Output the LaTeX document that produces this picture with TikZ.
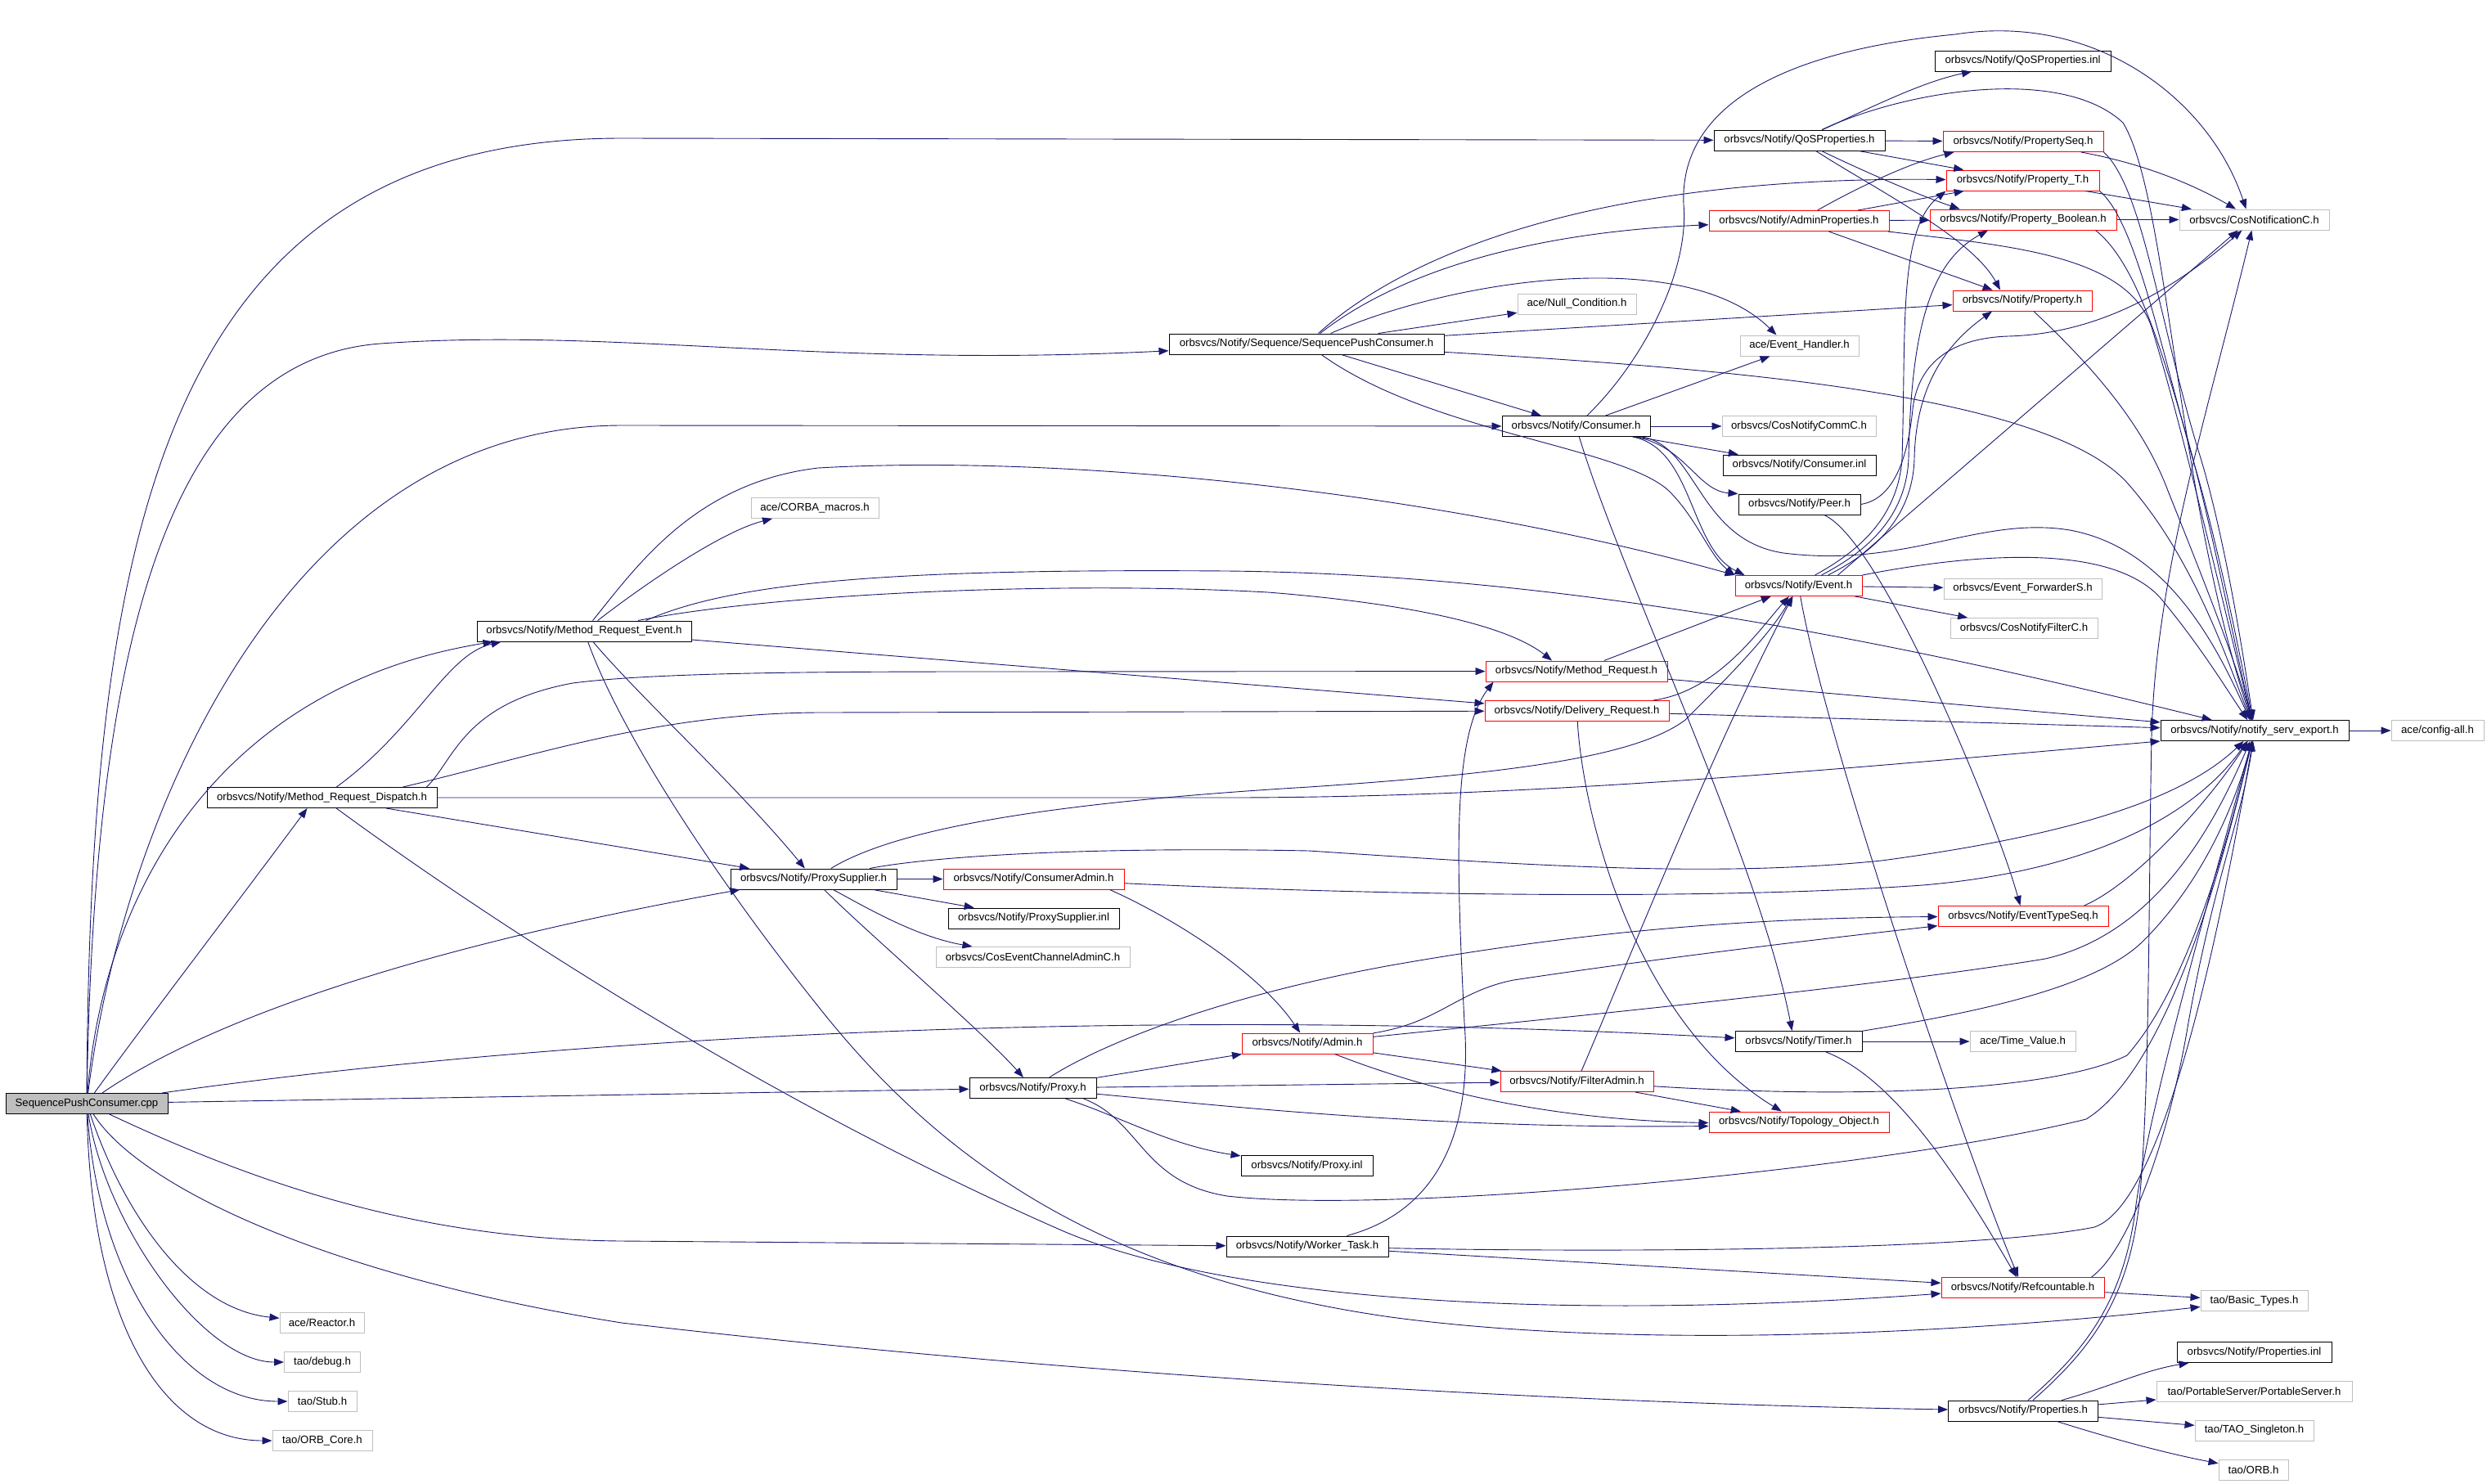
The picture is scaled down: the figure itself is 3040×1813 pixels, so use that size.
\documentclass[tikz,border=0pt]{standalone}
\usepackage{fontspec}
\setmainfont{Liberation Sans}
\usetikzlibrary{arrows.meta,calc}
\definecolor{edgeblue}{RGB}{25,25,112}
\definecolor{boxgray}{RGB}{191,191,191}
\newcommand{\nfont}{\fontsize{13.2}{15}\selectfont}
\begin{document}
\begin{tikzpicture}[x=1pt,y=-1pt,
  box/.style={draw=black,line width=1pt,minimum height=25pt,inner sep=0pt,font=\nfont},
  rbox/.style={box,draw=red},
  gbox/.style={box,draw=boxgray},
  e/.style={draw=edgeblue,line width=0.9pt,-{Triangle[length=12pt,width=9pt]}}]
\useasboundingbox (0,0) rectangle (3040,1813);
% nodes
\node[box,fill=boxgray,minimum width=198pt] (cpp) at (106,1349) {SequencePushConsumer.cpp};
\node[box,minimum width=209pt] (qos) at (2199.5,171.5) {orbsvcs/Notify/QoSProperties.h};
\node[box,minimum width=215pt] (qosinl) at (2472.5,74.5) {orbsvcs/Notify/QoSProperties.inl};
\node[rbox,minimum width=196pt] (pseq) at (2473,173) {orbsvcs/Notify/PropertySeq.h};
\node[rbox,minimum width=187pt] (propT) at (2472.5,220.5) {orbsvcs/Notify/Property\_T.h};
\node[rbox,minimum width=228pt] (pbool) at (2473,268.5) {orbsvcs/Notify/Property\_Boolean.h};
\node[gbox,minimum width=183pt] (cosnotif) at (2755.5,268.5) {orbsvcs/CosNotificationC.h};
\node[rbox,minimum width=170pt] (prop) at (2472,367.5) {orbsvcs/Notify/Property.h};
\node[rbox,minimum width=220pt] (adminprop) at (2199,270) {orbsvcs/Notify/AdminProperties.h};
\node[gbox,minimum width=145pt] (nullcond) at (1927.5,371.5) {ace/Null\_Condition.h};
\node[box,minimum width=336pt] (seqpc) at (1597,420.5) {orbsvcs/Notify/Sequence/SequencePushConsumer.h};
\node[gbox,minimum width=145pt] (evhandler) at (2199.5,422.5) {ace/Event\_Handler.h};
\node[box,minimum width=181pt] (consumer) at (1926.5,521) {orbsvcs/Notify/Consumer.h};
\node[gbox,minimum width=188pt] (commc) at (2199,521) {orbsvcs/CosNotifyCommC.h};
\node[box,minimum width=187pt] (consinl) at (2199.5,568.5) {orbsvcs/Notify/Consumer.inl};
\node[box,minimum width=149pt] (peer) at (2199.5,616.5) {orbsvcs/Notify/Peer.h};
\node[rbox,minimum width=155pt] (event) at (2198.5,716) {orbsvcs/Notify/Event.h};
\node[gbox,minimum width=193pt] (evfwd) at (2472.5,719.5) {orbsvcs/Event\_ForwarderS.h};
\node[gbox,minimum width=180pt] (filterc) at (2474,768) {orbsvcs/CosNotifyFilterC.h};
\node[gbox,minimum width=156pt] (corba) at (996,621) {ace/CORBA\_macros.h};
\node[box,minimum width=262pt] (mre) at (714,771.5) {orbsvcs/Notify/Method\_Request\_Event.h};
\node[rbox,minimum width=222pt] (mr) at (1927,820.5) {orbsvcs/Notify/Method\_Request.h};
\node[rbox,minimum width=225pt] (dr) at (1927.5,869) {orbsvcs/Notify/Delivery\_Request.h};
\node[box,minimum width=230pt] (nse) at (2756,893) {orbsvcs/Notify/notify\_serv\_export.h};
\node[gbox,minimum width=113pt] (config) at (2979.5,893) {ace/config-all.h};
\node[box,minimum width=281pt] (mrd) at (393.5,975) {orbsvcs/Notify/Method\_Request\_Dispatch.h};
\node[box,minimum width=203pt] (psup) at (994.5,1074.5) {orbsvcs/Notify/ProxySupplier.h};
\node[rbox,minimum width=221pt] (cadmin) at (1263.5,1074.5) {orbsvcs/Notify/ConsumerAdmin.h};
\node[box,minimum width=209pt] (psupinl) at (1263.5,1122.5) {orbsvcs/Notify/ProxySupplier.inl};
\node[gbox,minimum width=237pt] (cecac) at (1262.5,1170) {orbsvcs/CosEventChannelAdminC.h};
\node[rbox,minimum width=208pt] (etseq) at (2473,1120) {orbsvcs/Notify/EventTypeSeq.h};
\node[rbox,minimum width=160pt] (admin) at (1598,1275.5) {orbsvcs/Notify/Admin.h};
\node[box,minimum width=155pt] (timer) at (2198.5,1273) {orbsvcs/Notify/Timer.h};
\node[gbox,minimum width=129pt] (timeval) at (2472.5,1273) {ace/Time\_Value.h};
\node[box,minimum width=155pt] (proxy) at (1262.5,1330) {orbsvcs/Notify/Proxy.h};
\node[rbox,minimum width=187pt] (filteradmin) at (1927.5,1322) {orbsvcs/Notify/FilterAdmin.h};
\node[rbox,minimum width=220pt] (topo) at (2199,1371.5) {orbsvcs/Notify/Topology\_Object.h};
\node[box,minimum width=161pt] (proxyinl) at (1597.5,1425) {orbsvcs/Notify/Proxy.inl};
\node[box,minimum width=198pt] (worker) at (1598,1523.5) {orbsvcs/Notify/Worker\_Task.h};
\node[rbox,minimum width=199pt] (refc) at (2472.5,1574) {orbsvcs/Notify/Refcountable.h};
\node[gbox,minimum width=131pt] (basic) at (2755.5,1590) {tao/Basic\_Types.h};
\node[box,minimum width=189pt] (propsinl) at (2755.5,1653) {orbsvcs/Notify/Properties.inl};
\node[gbox,minimum width=239pt] (portable) at (2755.5,1701) {tao/PortableServer/PortableServer.h};
\node[box,minimum width=183pt] (props) at (2473,1724.5) {orbsvcs/Notify/Properties.h};
\node[gbox,minimum width=145pt] (singleton) at (2755.5,1748.5) {tao/TAO\_Singleton.h};
\node[gbox,minimum width=85pt] (orb) at (2754.5,1797) {tao/ORB.h};
\node[gbox,minimum width=103pt] (reactor) at (393.5,1616.5) {ace/Reactor.h};
\node[gbox,minimum width=93pt] (debug) at (394,1665) {tao/debug.h};
\node[gbox,minimum width=84pt] (stub) at (394,1713) {tao/Stub.h};
\node[gbox,minimum width=122pt] (orbcore) at (394,1761) {tao/ORB\_Core.h};
% edges from cpp
\draw[e] (cpp) .. controls (110,650) and (200,169) .. (760,169) -- (qos);
\draw[e] (cpp) .. controls (115,800) and (200,440) .. (465,420) .. controls (750,400) and (1000,450) .. (seqpc);
\draw[e] (cpp) .. controls (150,1000) and (350,520) .. (760,520) -- (consumer);
\draw[e] (cpp) .. controls (125,1100) and (260,840) .. ($(mre.south west)+(20,0)$);
\draw[e] (cpp) .. controls (170,1260) and (300,1090) .. ($(mrd.south)+(-18,0)$);
\draw[e] (cpp) .. controls (250,1250) and (500,1160) .. ($(psup.south west)+(12,0)$);
\draw[e] (cpp) .. controls (700,1265) and (1400,1230) .. (timer);
\draw[e] (cpp) -- (proxy);
\draw[e] (cpp) .. controls (300,1440) and (500,1515) .. (760,1517) -- (worker);
\draw[e] (cpp) .. controls (170,1450) and (400,1560) .. (760,1617) .. controls (1300,1680) and (1900,1715) .. (props);
\draw[e] (cpp) .. controls (150,1480) and (230,1600) .. (reactor);
\draw[e] (cpp) .. controls (130,1500) and (250,1665) .. (debug);
\draw[e] (cpp) .. controls (120,1560) and (220,1713) .. (stub);
\draw[e] (cpp) .. controls (112,1620) and (200,1761) .. (orbcore);
% qos
\draw[e] (qos) .. controls (2290,130) and (2350,100) .. (qosinl);
\draw[e] (qos) -- (pseq);
\draw[e] (qos) -- (propT);
\draw[e] (qos) .. controls (2290,215) and (2350,240) .. ($(pbool.north west)+(37,0)$);
\draw[e] (qos) .. controls (2290,230) and (2410,290) .. ($(prop.north)+(-27,0)$);
\draw[e] (qos) .. controls (2330,110) and (2520,80) .. (2595,150) .. controls (2650,240) and (2660,600) .. (nse);
% adminprop
\draw[e] (adminprop) .. controls (2260,235) and (2330,200) .. ($(pseq.south west)+(14,0)$);
\draw[e] (adminprop) -- (propT);
\draw[e] (adminprop) -- (pbool);
\draw[e] (adminprop) -- (prop);
\draw[e] (adminprop) .. controls (2450,300) and (2600,310) .. (2630,400) .. controls (2670,530) and (2720,750) .. (nse);
% seqpc
\draw[e] (seqpc) .. controls (1700,340) and (1850,285) .. (adminprop);
\draw[e] (seqpc) .. controls (1720,310) and (1950,215) .. (propT);
\draw[e] (seqpc) .. controls (1780,340) and (2060,300) .. ($(evhandler.north west)+(45,0)$);
\draw[e] (seqpc) -- (nullcond);
\draw[e] (seqpc) -- (prop);
\draw[e] (seqpc) .. controls (2100,450) and (2500,480) .. (2600,590) .. controls (2680,680) and (2720,800) .. (nse);
\draw[e] (seqpc) -- (consumer);
\draw[e] (seqpc) .. controls (1750,530) and (1980,545) .. (2040,600) .. controls (2075,635) and (2090,680) .. (event.north west);
% consumer
\draw[e] (consumer) -- (evhandler);
\draw[e] (consumer) -- (commc);
\draw[e] (consumer) -- (consinl);
\draw[e] (consumer) .. controls (2060,545) and (2075,600) .. (peer.north west);
\draw[e] (consumer) .. controls (2070,548) and (2065,670) .. ($(event.north west)+(12,0)$);
\draw[e] (consumer) .. controls (2010,440) and (2065,330) .. (2058,250) .. controls (2052,120) and (2200,60) .. (2390,42) .. controls (2560,15) and (2700,120) .. ($(cosnotif.north)+(-10,0)$);
\draw[e] (consumer) .. controls (1980,700) and (2150,1050) .. ($(timer.north)+(-8,0)$);
\draw[e] (consumer) .. controls (2075,545) and (2075,660) .. (2180,676) .. controls (2330,695) and (2420,630) .. (2530,648) .. controls (2650,670) and (2710,790) .. (nse);
% peer
\draw[e] (peer) .. controls (2300,660) and (2440,1000) .. (etseq);
\draw[e] (peer.east) .. controls (2315,610) and (2332,560) .. (2338,500) .. controls (2345,440) and (2390,413) .. (2455,411) .. controls (2560,408) and (2650,360) .. (cosnotif);
% event
\draw[e] (event) -- (evfwd);
\draw[e] (event) -- (filterc);
\draw[e] ($(event.north)+(20,0)$) .. controls (2260,680) and (2320,640) .. (2325,560) .. controls (2330,400) and (2320,280) .. (propT.south west);
\draw[e] ($(event.north)+(28,0)$) .. controls (2270,680) and (2330,640) .. (2333,560) .. controls (2336,400) and (2360,320) .. ($(pbool.south)+(-43,0)$);
\draw[e] ($(event.north)+(36,0)$) .. controls (2280,680) and (2338,640) .. (2340,560) .. controls (2342,470) and (2380,420) .. ($(prop.south)+(-37,0)$);
\draw[e] ($(event.north)+(48,0)$) -- ($(cosnotif.south)+(-20,0)$);
\draw[e] (event.north east) .. controls (2420,675) and (2580,665) .. (2640,730) .. controls (2690,790) and (2720,840) .. (nse);
\draw[e] (event) .. controls (2230,900) and (2400,1400) .. (refc);
% mre
\draw[e] (mre) .. controls (780,720) and (880,650) .. (corba);
\draw[e] (mre) .. controls (780,690) and (850,590) .. (1000,572) .. controls (1300,555) and (1750,600) .. (event.north west);
\draw[e] ($(mre.north east)+(-56,0)$) .. controls (900,710) and (1100,695) .. (1500,698) .. controls (1900,702) and (2300,780) .. (nse);
\draw[e] (mre) .. controls (950,725) and (1300,710) .. (1550,724) .. controls (1750,740) and (1850,770) .. ($(mr.north)+(-30,0)$);
\draw[e] (mre) -- (dr);
\draw[e] (mre) .. controls (780,850) and (900,960) .. (psup);
\draw[e] (mre) .. controls (760,900) and (880,1080) .. (1000,1230) .. controls (1150,1420) and (1350,1560) .. (1700,1610) .. controls (2000,1650) and (2400,1630) .. (basic);
% mrd
\draw[e] (mrd) .. controls (510,890) and (545,800) .. ($(mre.south west)+(30,0)$);
\draw[e] ($(mrd.north east)+(-13,0)$) .. controls (555,930) and (565,860) .. (700,835) .. controls (800,822) and (1000,821) .. (1200,821) -- (mr);
\draw[e] ($(mrd.north east)+(-42,0)$) .. controls (650,925) and (800,872) .. (1000,871) -- (dr);
\draw[e] (mrd.east) -- (1500,975) .. controls (1900,975) and (2300,935) .. (nse.south west);
\draw[e] (mrd) -- (psup);
\draw[e] (mrd) .. controls (550,1090) and (900,1330) .. (1300,1505) .. controls (1500,1590) and (1900,1615) .. (refc);
% mr, dr
\draw[e] (mr) -- (event);
\draw[e] (mr) -- (nse);
\draw[e] (dr) .. controls (2100,845) and (2150,770) .. (event);
\draw[e] (dr) -- (nse);
\draw[e] (dr) .. controls (1935,1000) and (2000,1250) .. (topo);
% psup
\draw[e] (psup) -- (cadmin);
\draw[e] (psup) -- (psupinl);
\draw[e] (psup) .. controls (1060,1110) and (1120,1145) .. (cecac);
\draw[e] (psup) .. controls (1060,1140) and (1200,1260) .. (proxy);
\draw[e] (psup) .. controls (1100,1010) and (1300,980) .. (1600,962) .. controls (1850,945) and (2000,925) .. (2060,880) .. controls (2110,830) and (2160,780) .. (event);
\draw[e] (psup) .. controls (1150,1045) and (1350,1035) .. (1600,1040) .. controls (1900,1060) and (2100,1072) .. (2300,1052) .. controls (2500,1025) and (2660,985) .. (nse);
% cadmin
\draw[e] (cadmin) .. controls (1700,1095) and (2100,1100) .. (2350,1082) .. controls (2550,1065) and (2680,1000) .. (nse);
\draw[e] ($(cadmin.south east)+(-18,0)$) .. controls (1440,1125) and (1540,1190) .. (admin);
% proxy
\draw[e] (proxy) -- (admin);
\draw[e] (proxy) .. controls (1340,1280) and (1480,1220) .. (1700,1180) .. controls (1900,1145) and (2100,1122) .. (etseq);
\draw[e] (proxy) -- (filteradmin);
\draw[e] (proxy) .. controls (1500,1352) and (1750,1380) .. ($(topo.west)+(0,5)$);
\draw[e] (proxy) .. controls (1370,1365) and (1430,1400) .. (proxyinl);
\draw[e] ($(proxy.south)+(62,0)$) .. controls (1395,1370) and (1395,1445) .. (1500,1462) .. controls (1700,1485) and (2300,1430) .. (2550,1368) .. controls (2660,1300) and (2730,1000) .. (nse);
% admin
\draw[e] (admin) .. controls (1760,1250) and (1780,1212) .. (1850,1198) .. controls (2050,1168) and (2250,1145) .. (etseq);
\draw[e] (admin) -- (filteradmin);
\draw[e] (admin) .. controls (1700,1315) and (1850,1368) .. ($(topo.west)+(0,1)$);
\draw[e] (admin) .. controls (1900,1245) and (2300,1205) .. (2500,1172) .. controls (2640,1140) and (2710,1000) .. (nse);
% filteradmin
\draw[e] (filteradmin) .. controls (1980,1200) and (2100,900) .. (event);
\draw[e] (filteradmin) -- (topo);
\draw[e] (filteradmin) .. controls (2300,1345) and (2520,1330) .. (2600,1290) .. controls (2680,1200) and (2730,1000) .. (nse);
% timer
\draw[e] (timer) -- (timeval);
\draw[e] (timer) .. controls (2320,1320) and (2400,1450) .. (refc);
\draw[e] (timer) .. controls (2400,1240) and (2560,1210) .. (2620,1150) .. controls (2690,1080) and (2730,990) .. (nse);
% worker
\draw[e] (worker) .. controls (1760,1480) and (1800,1380) .. (1790,1250) .. controls (1780,1050) and (1775,900) .. ($(mr.south west)+(10,0)$);
\draw[e] (worker) .. controls (1900,1530) and (2400,1532) .. (2560,1500) .. controls (2650,1470) and (2720,1100) .. (nse);
\draw[e] (worker) -- (refc);
% refc
\draw[e] (refc) -- (basic);
\draw[e] ($(refc.north east)+(-16,0)$) .. controls (2600,1530) and (2650,1400) .. (2675,1250) .. controls (2705,1080) and (2740,1000) .. (nse);
% props
\draw[e] (props) .. controls (2580,1695) and (2620,1675) .. (propsinl);
\draw[e] (props) -- (portable);
\draw[e] (props) -- (singleton);
\draw[e] (props) .. controls (2570,1755) and (2640,1775) .. (orb);
\draw[e] ($(props.north)+(6,0)$) .. controls (2550,1650) and (2595,1590) .. (2610,1480) .. controls (2625,1360) and (2700,1100) .. (nse);
\draw[e] ($(props.north)+(12,0)$) .. controls (2555,1650) and (2600,1590) .. (2614,1478) .. controls (2628,1350) and (2626,1100) .. (2630,900) .. controls (2635,700) and (2700,500) .. (cosnotif);
% etseq and property headers
\draw[e] ($(etseq.north east)+(-30,0)$) .. controls (2610,1080) and (2700,980) .. (nse);
\draw[e] (pseq) .. controls (2620,200) and (2680,225) .. (cosnotif);
\draw[e] (propT) -- (cosnotif);
\draw[e] (pbool) -- (cosnotif);
\draw[e] (pseq.south east) .. controls (2620,230) and (2640,400) .. (2690,560) .. controls (2720,660) and (2742,800) .. (nse);
\draw[e] (propT.south east) .. controls (2610,270) and (2640,420) .. (2680,560) .. controls (2710,660) and (2738,800) .. (nse);
\draw[e] ($(pbool.south east)+(-26,0)$) .. controls (2610,320) and (2640,420) .. (2675,540) .. controls (2705,650) and (2734,800) .. (nse);
\draw[e] (prop) .. controls (2560,450) and (2620,520) .. (2650,600) .. controls (2690,700) and (2730,800) .. (nse);
\draw[e] (nse) -- (config);
\end{tikzpicture}
\end{document}
